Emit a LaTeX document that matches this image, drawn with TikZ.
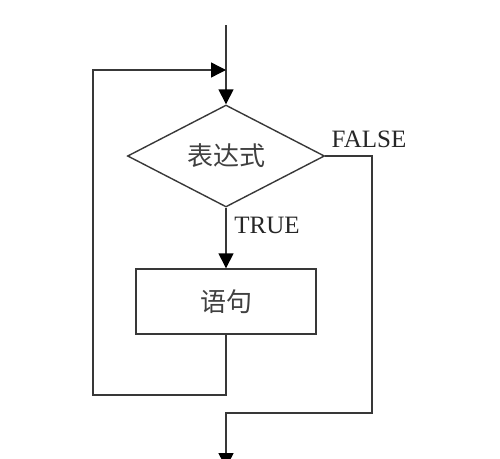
\documentclass[tikz,border=0pt]{standalone}
\usepackage{fontspec}
\setmainfont{Liberation Serif}
\newfontfamily\cjk{Noto Sans CJK SC}
\usetikzlibrary{shapes.geometric,arrows.meta,positioning}

\begin{document}
\begin{tikzpicture}[x=1pt,y=-1pt,
                   line/.style={draw=black!78,line width=1.4pt},
                   arr/.style={line,-{Triangle[length=15pt,width=15pt,fill=black,color=black]}},
                   decision/.style={diamond,line,minimum width=197pt,minimum height=89pt,
                     inner sep=0pt,text=black!75,font=\cjk\fontsize{26}{26}\selectfont},
                   block/.style={rectangle,line,minimum width=180pt,minimum height=65pt,
                     inner sep=0pt,text=black!75,font=\cjk\fontsize{26}{26}\selectfont},
                   lbl/.style={inner sep=0pt,text=black!85,font=\fontsize{25}{25}\selectfont}]
          \clip (0,0) rectangle (500,458);
          % nodes
          \node[decision] (cond) at (226,156) {表达式};
          \node[block] (body) at (226,301.5) {语句};
          \node[lbl] (falselbl) at (369,139) {FALSE};
          \node[lbl] (truelbl) at (267,225) {TRUE};
          % corners of the connectors
          \coordinate (start) at (226,25);
          \coordinate (join) at (226,70);
          \coordinate (loopcorner) at (93,395);
          \coordinate (falsecorner) at (372,413);
          \coordinate (exit) at (226,468);
          % connectors
          \draw[arr] (start) -- (cond.north);
          \draw[arr] (cond.south) -- (body.north);
          \draw[arr] (body.south) |- (loopcorner) |- (join);
          \draw[arr] (cond.east) -| (falsecorner) -| (exit);
        \end{tikzpicture}
\end{document}
